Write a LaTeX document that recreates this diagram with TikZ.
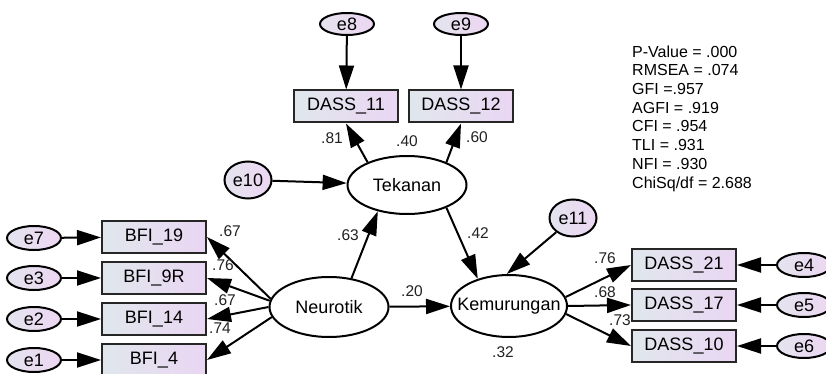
\documentclass[tikz,border=0pt]{standalone}
\usepackage{fontspec}
\setmainfont{Liberation Sans}
\usetikzlibrary{shapes.geometric,arrows.meta}
\definecolor{boxL}{HTML}{E0E7EC}
\definecolor{boxR}{HTML}{EAD6F3}
\definecolor{errL}{HTML}{E4E4EE}
\definecolor{errR}{HTML}{ECD6F2}
\definecolor{lbl}{HTML}{222222}
\begin{document}
\begin{tikzpicture}[x=1pt,y=-1pt,
  obs/.style={rectangle, draw=black!85, line width=2pt, left color=boxL, right color=boxR,
    minimum width=104pt, minimum height=32pt, inner sep=0pt, font=\fontsize{18}{20}\selectfont},
  err/.style={ellipse, draw=black, line width=2pt, left color=errL, right color=errR,
    minimum width=54pt, minimum height=24pt, inner sep=0pt, font=\fontsize{18}{20}\selectfont},
  dist/.style={err, minimum width=47pt, minimum height=37pt},
  lat/.style={ellipse, draw=black, line width=2pt, fill=white, minimum width=119pt,
    minimum height=58pt, inner sep=0pt, font=\fontsize{18}{20}\selectfont},
  pth/.style={line width=2pt, -{Triangle[length=24pt,width=15pt]}},
  coef/.style={font=\fontsize{15.5}{17}\selectfont, text=lbl, inner sep=0pt}]
\useasboundingbox (0,0) rectangle (826,374);
\fill[white] (0,0) rectangle (826,374);

% latent variables
\node[lat] (tek) at (407,185) {Tekanan};
\node[lat, minimum height=60pt] (neu) at (329,307) {Neurotik};
\node[lat, minimum width=116pt, minimum height=62pt, inner xsep=-12pt] (kem) at (509,306) {Kemurungan};

% Tekanan indicators
\node[obs] (d11) at (346,106.5) {DASS\_11};
\node[obs] (d12) at (461,106.5) {DASS\_12};
\node[err, minimum height=22pt] (e8) at (347,24) {e8};
\node[err, minimum height=22pt] (e9) at (461,24) {e9};
\node[dist] (e10) at (248,180) {e10};
\node[dist] (e11) at (573,218) {e11};

% Neurotik indicators
\node[obs] (b19) at (154,237) {BFI\_19};
\node[obs] (b9r) at (154,278) {BFI\_9R};
\node[obs] (b14) at (154,319) {BFI\_14};
\node[obs] (b4) at (154,360) {BFI\_4};
\node[err] (e7) at (34,238) {e7};
\node[err] (e3) at (34,278) {e3};
\node[err] (e2) at (34,319) {e2};
\node[err] (e1) at (34,360) {e1};

% Kemurungan indicators
\node[obs] (d21) at (684,265) {DASS\_21};
\node[obs] (d17) at (684,305) {DASS\_17};
\node[obs] (d10) at (684,346) {DASS\_10};
\node[err] (e4) at (804,265) {e4};
\node[err] (e5) at (804,305) {e5};
\node[err] (e6) at (804,346) {e6};

% paths
\draw[pth] (e8) -- (d11);
\draw[pth] (e9) -- (d12);
\draw[pth] (tek.150) -- (d11.south);
\draw[pth] (tek.30) -- (d12.south);
\draw[pth] (e10) -- (tek);
\draw[pth] (neu.52) -- (tek.-138);
\draw[pth] (tek.-30) -- (kem.139);
\draw[pth] (e11) -- (kem.94);
\draw[pth] (neu) -- (kem);
\draw[pth] (neu.172) -- (b19.east);
\draw[pth] (neu.174) -- (b9r.east);
\draw[pth] (neu.180) -- (b14.east);
\draw[pth] (neu.190) -- (b4.east);
\draw[pth] (e7) -- (b19);
\draw[pth] (e3) -- (b9r);
\draw[pth] (e2) -- (b14);
\draw[pth] (e1) -- (b4);
\draw[pth] (kem.9) -- (d21.west);
\draw[pth] (kem.0) -- (d17.west);
\draw[pth] (kem.-8) -- (d10.west);
\draw[pth] (e4) -- (d21);
\draw[pth] (e5) -- (d17);
\draw[pth] (e6) -- (d10);

% coefficients
\node[coef] (c81) at (332,138) {.81};
\node[coef] (c40) at (407,141) {.40};
\node[coef] (c60) at (477,137) {.60};
\node[coef] (c63) at (348,235) {.63};
\node[coef] (c42) at (478,233) {.42};
\node[coef] (c20) at (412,291) {.20};
\node[coef] (c32) at (503,352) {.32};
\node[coef] (cb19) at (230,231) {.67};
\node[coef] (cb9) at (223,265) {.76};
\node[coef] (cb14) at (225,300) {.67};
\node[coef] (cb4) at (220,328) {.74};
\node[coef] (cd21) at (605,258) {.76};
\node[coef] (cd17) at (605,292) {.68};
\node[coef] (cd10) at (620,320) {.73};

% fit statistics
\node[anchor=west, align=left, inner sep=0pt, font=\fontsize{16}{18.7}\selectfont] (fit) at (632,118.5)
  {P-Value = .000\\RMSEA = .074\\GFI =.957\\AGFI = .919\\CFI = .954\\TLI = .931\\NFI = .930\\ChiSq/df = 2.688};
\end{tikzpicture}
\end{document}
